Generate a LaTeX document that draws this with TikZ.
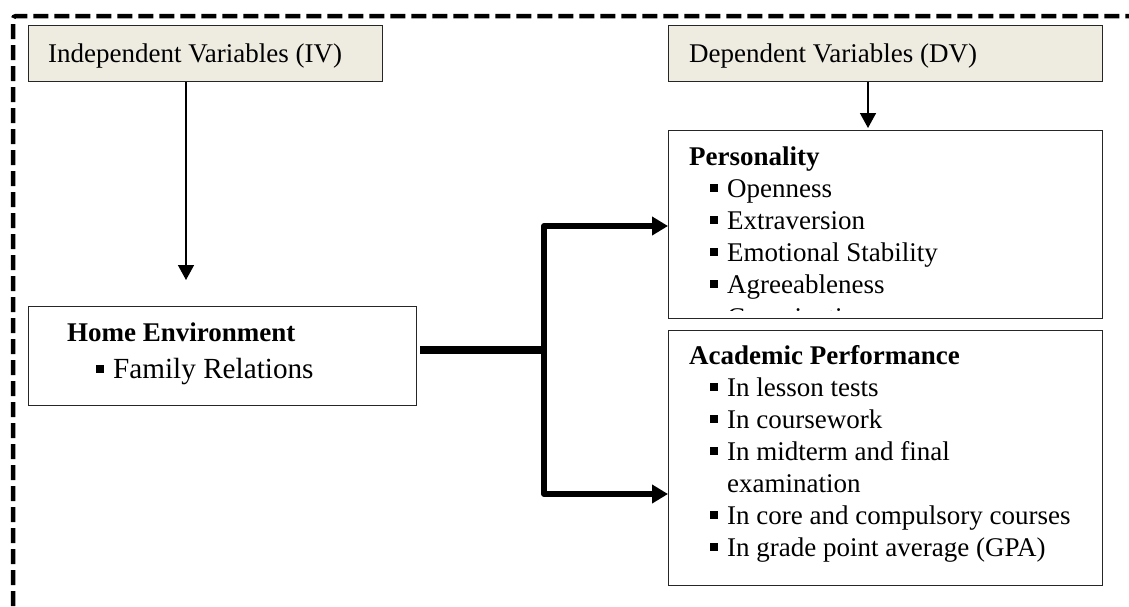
\documentclass[tikz,border=0pt]{standalone}
\usepackage{fontspec}
\setmainfont{Liberation Serif}
\usetikzlibrary{arrows.meta}
\definecolor{hdrfill}{HTML}{EEECE1}
\newcommand{\sqbul}{\rule[5pt]{8pt}{8pt}\hspace{9pt}}
\begin{document}
\begin{tikzpicture}[x=1pt,y=-1pt,
  boxstyle/.style={draw=black!85, line width=1.3pt, fill=white, inner sep=0pt, anchor=north west},
  hdrbox/.style={boxstyle, fill=hdrfill},
  txt/.style={inner sep=0pt, anchor=base west, font=\fontsize{27}{32}\selectfont},
  boldtxt/.style={txt, font=\fontsize{27}{32}\selectfont\bfseries},
  thinarrow/.style={line width=1.5pt, -{Triangle[length=15pt,width=16pt]}},
  fork/.style={line width=6pt, line join=round, -{Triangle[length=16pt,width=18pt]}},
  border/.style={line width=4.5pt, dash pattern=on 15pt off 6pt, rounded corners=3pt}
]
\useasboundingbox (0,0) rectangle (1129,606);
\draw[border] (13,606) -- (13,16) -- (1129,16);

% boxes
\node[hdrbox, minimum width=354pt, minimum height=56pt] (iv) at (28,25) {};
\node[hdrbox, minimum width=434pt, minimum height=56pt] (dv) at (668,25) {};
\node[boxstyle, minimum width=434pt, minimum height=188pt] (pers) at (668,130) {};
\node[boxstyle, minimum width=434pt, minimum height=255pt] (acad) at (668,330) {};
\node[boxstyle, minimum width=388pt, minimum height=99pt] (home) at (28,306) {};

% header texts
\node[txt] (ivt) at (48,62) {Independent Variables (IV)};
\node[txt] (dvt) at (689,62) {Dependent Variables (DV)};

% personality
\node[boldtxt] (perst) at (689,165) {Personality};
\node[txt] (p1) at (710,197) {\sqbul Openness};
\node[txt] (p2) at (710,229) {\sqbul Extraversion};
\node[txt] (p3) at (710,261) {\sqbul Emotional Stability};
\node[txt] (p4) at (710,293) {\sqbul Agreeableness};
\begin{scope}
\clip (668,130) rectangle (1102,310);
\node[txt] (p5) at (710,326) {\sqbul Conscientiousness};
\end{scope}

% academic performance
\node[boldtxt] (acadt) at (689,364) {Academic Performance};
\node[txt] (a1) at (710,396) {\sqbul In lesson tests};
\node[txt] (a2) at (710,428) {\sqbul In coursework};
\node[txt] (a3) at (710,460) {\sqbul In midterm and final};
\node[txt] (a3b) at (727,492) {examination};
\node[txt] (a4) at (710,524) {\sqbul In core and compulsory courses};
\node[txt] (a5) at (710,556) {\sqbul In grade point average (GPA)};

% home environment
\node[boldtxt] (homet) at (67,341) {Home Environment};
\node[txt, font=\fontsize{29.2}{34}\selectfont] (h1) at (96,378) {\sqbul Family Relations};

% connectors
\coordinate (ivtip) at (186,280);
\draw[thinarrow] (ivtip |- iv.south) -- (ivtip);
\coordinate (dvtip) at (868,128);
\draw[thinarrow] (dvtip |- dv.south) -- (dvtip);
\coordinate (hs) at (420,350);
\coordinate (j) at (544,350);
\coordinate (t1) at (668,226);
\coordinate (t2) at (668,494);
\draw[line width=8pt] (hs) -- ([xshift=3pt]j);
\draw[fork] (j) |- (t1);
\draw[fork] (j) |- (t2);
\end{tikzpicture}
\end{document}
